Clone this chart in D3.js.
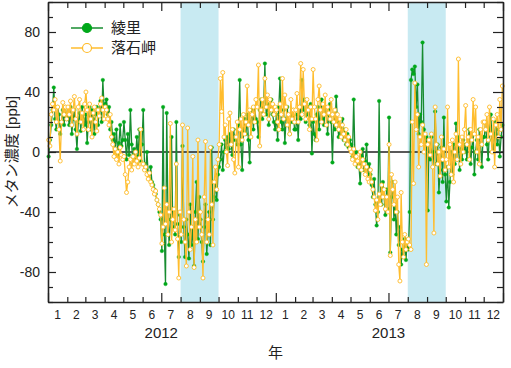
<!DOCTYPE html>
<html>
<head>
<meta charset="utf-8">
<script src="https://cdn.jsdelivr.net/npm/d3@7"></script>
<style>
  body { margin: 0; background: #fff; }
  svg text { font-family: "Liberation Sans", Arial, "Noto Sans CJK JP", sans-serif; fill: #222; }
</style>
</head>
<body>
<div id="chart"></div>
<script>
// monthly blocks of values (ppb), each block spread evenly over its month
const ryori2012 = [
  [-3, 8, 18, 28, 43, 22, 15, 30, 25, 12, 20, 28, 18, 30, 22],
  [25, 18, 30, 12, 22, 28, 15, 2, 20, 26, 14, 30, 22, 18],
  [25, 6, 20, 30, 15, 28, 22, 12, 25, 30, 18, 28, 34, 20, 48, 30],
  [32, 35, 25, 30, 15, 20, 8, 12, 2, 15, -2, 6, 18, 4, 8],
  [20, 8, -5, 12, -2, 28, 5, -8, 2, -5, 10, -3, 15, -6, 5],
  [28, -8, -12, 0, -15, -18, -10, -20, -22, -25, -28, -32, -35, -40, -45],
  [-66, 30, -55, -88, 26, -40, -62, -45, 10, -50, -38, -55, 20, -48, -70, -42],
  [-60, 4, -50, -70, -45, -55, -71, -35, -62, -50, -76, -40, -20, -58, -30],
  [-45, -60, -73, -50, -35, -68, -55, -40, -62, 3, -45, -30, -20, -32, -15],
  [-10, -5, 5, -12, 0, 8, 3, 10, 2, 12, 5, -2, 15, 8, 10, 5],
  [18, 48, 5, -12, 15, 22, 12, 25, 8, -7, 20, 28, 15, 30, 22],
  [20, 10, 28, 35, 22, 30, 59, 25, 32, 18, 28, 35, 25, 20, 15]
];
const ochiishi2012 = [
  [8, 4, 25, 32, 28, 35, 20, 30, 15, -6, 20, 33, 25, 30, 22],
  [30, 25, 34, 18, 28, 37, 22, 12, 30, 35, 20, 26, 15, 32],
  [40, 28, 15, 32, 22, 10, 26, 30, 20, 14, 28, 24, 32, 36, 28, 22],
  [30, 28, 22, 18, 25, 10, 5, -3, 2, -5, 0, -8, 3, -2, -5],
  [-3, -15, -27, -20, -10, -5, -12, -3, -8, 0, -6, -10, -4, 15, -8],
  [-8, -12, -10, -15, -18, -14, -20, -22, -25, -28, -26, -32, -35, -38, -42],
  [-61, -50, -24, -48, -35, -55, -40, 19, -60, -45, -38, -52, -8, -58, -84, -40],
  [-55, 18, -45, -60, -76, 16, -40, -65, -50, -3, -77, -45, -60, 8, -50],
  [-40, -55, -84, -30, 7, -60, -45, -55, 3, -35, -62, -20, -10, -25, -5],
  [5, 49, 27, 53, 10, 18, 0, -9, 22, 26, 5, 15, -5, -14, 10, 20],
  [-10, 15, 22, 8, 25, 12, 20, 44, 18, 28, 10, 25, 30, 20, 35],
  [30, 58, 4, 28, 35, 25, 49, 30, 38, 22, 35, 28, 32, 25, 30]
];
const ryori2013 = [
  [25, 8, 30, 49, 20, 15, 28, 6, 22, 30, 18, 12, 25, 20, 28, 15],
  [15, 25, 8, 30, 22, 48, 28, 35, 20, 25, 30, 18, 32, -1],
  [20, 12, 8, 25, 30, 15, 28, 35, 22, 18, 30, 25, 12, 28, 32, 20],
  [-7, 25, 15, 37, 20, 10, 18, 12, 22, 8, 15, 5, 12, 3, 8],
  [5, -3, 35, -5, 0, -10, -8, -21, -3, 2, -12, -6, 5, -15, -8],
  [-15, -22, -30, -18, -35, -49, -40, 34, -28, -35, -20, -30, -42, -25, -38],
  [23, -67, -30, -20, -45, -35, -55, -40, -62, -50, -75, -65, -70, -58, -72, -60],
  [-65, -40, 48, 55, 52, 57, 30, 45, 12, 25, 20, 73, 15, 5, 10],
  [-39, 5, -5, 10, -10, 0, 27, -8, 5, -27, -12, 3, -20, 23, -15],
  [-33, -10, -37, -20, 0, -15, 5, -8, 19, -5, 10, -12, 2, -5, 8, 0],
  [5, -5, 10, 15, -8, 3, 12, -15, 0, 8, -5, 15, 5, -10, 10],
  [10, 20, 5, -5, 15, 25, 8, 0, 12, 20, 5, 15, -3, 10, 18]
];
const ochiishi2013 = [
  [28, 20, 15, 32, 25, 49, 22, 38, 30, 18, 25, 12, 35, 22, 28, 20],
  [28, 39, 20, 30, 59, 25, 55, 32, 22, 35, 28, 15, 30, 22],
  [55, 30, 22, 8, 35, 44, 28, 20, 32, 25, 38, 18, 30, 26, 22, 35],
  [25, 20, 28, 18, 25, 15, 22, 10, 18, 12, 8, 15, 5, 10, 2],
  [0, -5, 2, -8, -3, -6, -10, 0, -12, -5, -8, -15, -10, -18, -20],
  [-12, -20, -25, -30, -39, -32, -45, -28, -35, -22, -30, -25, -38, -30, -40],
  [5, -69, -15, -25, -35, -20, -40, -30, -75, -86, -27, -60, -70, -55, -65, -60],
  [-58, -62, -65, 20, -21, 46, 15, 25, -10, 10, 5, 18, 0, 12, -75],
  [5, 8, -2, 12, -10, -54, 30, 5, -8, 0, -16, 10, -5, 2, -12],
  [-5, 30, -10, 5, -15, 8, -20, 0, 12, -5, 62, 5, -8, 10, 0, 15],
  [31, 5, 10, -5, 15, 8, 35, 12, 30, 0, 10, -8, 15, 5, 20],
  [20, 15, 25, 8, 30, 12, 0, 22, -10, 18, 25, 10, 35, 15, 44]
];

const years = [2012, 2013];
const monthLabels = ["1","2","3","4","5","6","7","8","9","10","11","12"];
const yTickLabels = [-80, -40, 0, 40, 80];
const shadedPeriods = [["2012-08-01", "2012-10-01"], ["2013-08-01", "2013-10-01"]];

const series = [
  { name: "綾里", blocks: { 2012: ryori2012, 2013: ryori2013 }, line: "#178c30", marker: "#00a81a", filled: true },
  { name: "落石岬", blocks: { 2012: ochiishi2012, 2013: ochiishi2013 }, line: "#ffbd2e", marker: "#ffbb28", filled: false }
];

// spread each month block evenly inside its month
function toPoints(blocks) {
  const pts = [];
  years.forEach(yr => {
    blocks[yr].forEach((vals, m) => {
      const start = Date.UTC(yr, m, 1), end = Date.UTC(yr, m + 1, 1);
      vals.forEach((v, j) => {
        pts.push({ date: new Date(start + (j + 0.5) / vals.length * (end - start)), value: v });
      });
    });
  });
  return pts;
}

const W = 511, H = 368;
const margin = {top: 2, right: 8, bottom: 66, left: 48};
const width = W - margin.left - margin.right;
const height = H - margin.top - margin.bottom;

const svg = d3.select("#chart").append("svg")
    .attr("width", W)
    .attr("height", H);

const g = svg.append("g")
    .attr("transform", `translate(${margin.left},${margin.top})`);

const x = d3.scaleUtc()
    .domain([new Date(Date.UTC(2012, 0, 1)), new Date(Date.UTC(2014, 0, 1))])
    .range([0, width]);

const y = d3.scaleLinear()
    .domain([-100, 100])
    .range([height, 0]);

// shaded Aug-Sep periods
g.selectAll("rect.band")
    .data(shadedPeriods)
    .enter()
    .append("rect")
    .attr("class", "band")
    .attr("x", d => x(new Date(d[0])))
    .attr("y", 0)
    .attr("width", d => x(new Date(d[1])) - x(new Date(d[0])))
    .attr("height", height)
    .attr("fill", "#c8eaf2");

// zero line
g.append("line")
    .attr("x1", 0).attr("x2", width)
    .attr("y1", y(0)).attr("y2", y(0))
    .attr("stroke", "#222")
    .attr("stroke-width", 1.5);

const line = d3.line()
    .x(d => x(d.date))
    .y(d => y(d.value));

series.forEach(s => {
    const pts = toPoints(s.blocks);
    g.append("path")
        .datum(pts)
        .attr("fill", "none")
        .attr("stroke", s.line)
        .attr("stroke-width", 1.3)
        .attr("d", line);
    g.append("g")
        .selectAll("circle")
        .data(pts)
        .enter()
        .append("circle")
        .attr("cx", d => x(d.date))
        .attr("cy", d => y(d.value))
        .attr("r", s.filled ? 1.8 : 2)
        .attr("fill", s.filled ? s.marker : "#fff")
        .attr("stroke", s.marker)
        .attr("stroke-width", s.filled ? 0.4 : 0.9);
});

// frame axes with inward ticks
const monthTicks = d3.utcMonth.range(x.domain()[0], d3.utcMonth.offset(x.domain()[1], 1));
const isMajorMonth = d => d.getUTCMonth() % 6 === 0;

function styleAxis(sel) {
    sel.select(".domain").attr("stroke", "#222").attr("stroke-width", 1.6);
    sel.selectAll(".tick line").attr("stroke", "#222").attr("stroke-width", 1.2);
    sel.selectAll(".tick text").remove();
}

const xBottom = g.append("g")
    .attr("transform", `translate(0,${height})`)
    .call(d3.axisBottom(x).tickValues(monthTicks).tickSizeOuter(0).tickFormat(""))
    .call(styleAxis);
xBottom.selectAll(".tick line").attr("y2", d => isMajorMonth(d) ? -9 : -5);

const xTop = g.append("g")
    .call(d3.axisTop(x).tickValues(monthTicks).tickSizeOuter(0).tickFormat(""))
    .call(styleAxis);
xTop.selectAll(".tick line").attr("y2", d => isMajorMonth(d) ? 9 : 6);

const yValues = d3.range(-100, 101, 10);
const isMajorY = d => d % 40 === 0;

const yLeft = g.append("g")
    .call(d3.axisLeft(y).tickValues(yValues).tickSizeOuter(0).tickFormat(""))
    .call(styleAxis);
yLeft.selectAll(".tick line").attr("x2", d => isMajorY(d) ? 8 : 5);

const yRight = g.append("g")
    .attr("transform", `translate(${width},0)`)
    .call(d3.axisRight(y).tickValues(yValues).tickSizeOuter(0).tickFormat(""))
    .call(styleAxis);
yRight.selectAll(".tick line").attr("x2", d => isMajorY(d) ? -10 : -6);

// y tick labels
g.selectAll("text.ylab")
    .data(yTickLabels)
    .enter()
    .append("text")
    .attr("class", "ylab")
    .attr("x", -8)
    .attr("y", d => y(d))
    .attr("dy", "0.36em")
    .attr("text-anchor", "end")
    .style("font-size", "14px")
    .text(d => d);

// month labels in the middle of each month
const monthMids = [];
years.forEach(yr => {
    monthLabels.forEach((lab, m) => {
        const a = Date.UTC(yr, m, 1), b = Date.UTC(yr, m + 1, 1);
        monthMids.push({ label: lab, date: new Date((a + b) / 2) });
    });
});
g.selectAll("text.mlab")
    .data(monthMids)
    .enter()
    .append("text")
    .attr("class", "mlab")
    .attr("x", d => x(d.date))
    .attr("y", height + 17)
    .attr("text-anchor", "middle")
    .style("font-size", "12px")
    .text(d => d.label);

g.selectAll("text.yrlab")
    .data(years)
    .enter()
    .append("text")
    .attr("class", "yrlab")
    .attr("x", d => x(new Date(Date.UTC(d, 6, 1))))
    .attr("y", height + 36)
    .attr("text-anchor", "middle")
    .style("font-size", "15px")
    .text(d => d);

g.append("text")
    .attr("x", width / 2)
    .attr("y", height + 56)
    .attr("text-anchor", "middle")
    .style("font-size", "15px")
    .text("年");

svg.append("text")
    .attr("transform", `translate(17,${margin.top + y(0)}) rotate(-90)`)
    .attr("text-anchor", "middle")
    .style("font-size", "15px")
    .text("メタン濃度 [ppb]");

// legend
const legend = g.append("g").attr("transform", "translate(23,26)");
series.forEach((s, i) => {
    const row = legend.append("g").attr("transform", `translate(0,${i * 20})`);
    row.append("line")
        .attr("x1", 0).attr("x2", 32)
        .attr("stroke", s.line)
        .attr("stroke-width", 1.5);
    row.append("circle")
        .attr("cx", 16)
        .attr("r", 4.5)
        .attr("fill", s.filled ? s.marker : "#fff")
        .attr("stroke", s.marker)
        .attr("stroke-width", 1.2);
    row.append("text")
        .attr("x", 40)
        .attr("dy", "0.36em")
        .style("font-size", "15px")
        .text(s.name);
});
</script>
</body>
</html>
